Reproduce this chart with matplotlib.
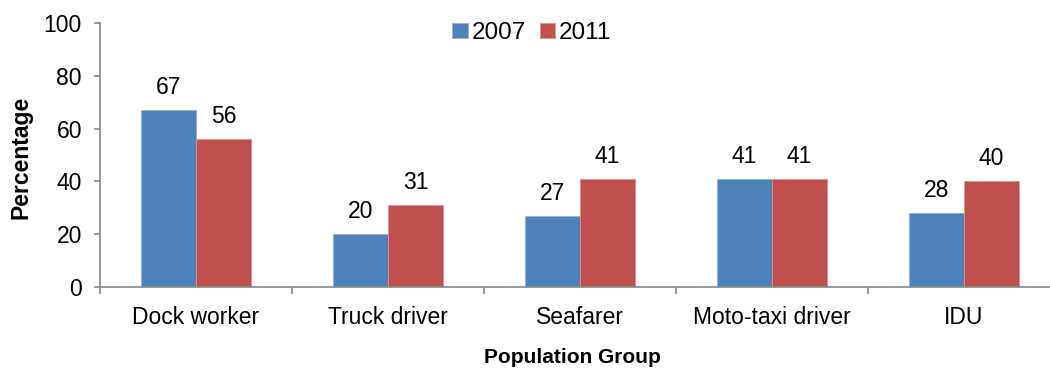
import matplotlib
matplotlib.use("Agg")
import matplotlib.pyplot as plt
import numpy as np

categories = ["Dock worker", "Truck driver", "Seafarer", "Moto-taxi driver", "IDU"]
years = ["2007", "2011"]
values_2007 = [67, 20, 27, 41, 28]
values_2011 = [56, 31, 41, 41, 40]
yticks = [0, 20, 40, 60, 80, 100]

plt.rcParams["font.family"] = ["Liberation Sans", "DejaVu Sans"]

fig = plt.figure(figsize=(10.5, 3.69), dpi=100)
ax = fig.add_axes([100 / 1050, 82 / 369, 960 / 1050, 264 / 369])

x = np.arange(len(categories))
w = 0.285
colors = ["#4F81BD", "#C0504D"]
edges = ["#8DB0DC", "#DE9492"]
for i, (vals, lab) in enumerate(zip([values_2007, values_2011], years)):
    pos = x + (i - 0.5) * w
    bars = ax.bar(pos, vals, width=w, color=colors[i], edgecolor=edges[i],
                  linewidth=0.6, label=lab, zorder=2)
    for b, v in zip(bars, vals):
        ax.annotate(f"{v}", (b.get_x() + b.get_width() / 2, v),
                    xytext=(0, 8), textcoords="offset points",
                    ha="center", va="bottom", fontsize=16.5)

ax.set_xlim(-0.5, len(categories) - 0.5)
ax.set_ylim(0, 100)
ax.set_yticks(yticks)
ax.set_yticklabels([str(t) for t in yticks], fontsize=16.5)

# category labels centred, ticks on category boundaries
ax.set_xticks(np.arange(len(categories) + 1) - 0.5)
ax.set_xticklabels([])
ax.set_xticks(x, minor=True)
ax.set_xticklabels(categories, minor=True, fontsize=16.5)
ax.tick_params(axis="x", which="minor", length=0, pad=14)
ax.tick_params(axis="x", which="major", length=5, color="#888888", width=1.2)
ax.tick_params(axis="y", length=4, color="#888888", width=1.2, pad=9)

for s in ["top", "right"]:
    ax.spines[s].set_visible(False)
for s in ["left", "bottom"]:
    ax.spines[s].set_color("#888888")
    ax.spines[s].set_linewidth(1.2)

ax.set_ylabel("Percentage", fontsize=16.5, fontweight="bold")
ax.yaxis.set_label_coords(-0.07, 0.49)
ax.set_xlabel("Population Group", fontsize=15, fontweight="bold")
ax.xaxis.set_label_coords(0.492, -0.23)

ax.legend(loc="center", bbox_to_anchor=(0.45, 0.962),
          ncol=2, frameon=False, fontsize=17.5, handlelength=0.62, handleheight=0.62,
          handletextpad=0.17, columnspacing=0.58, borderpad=0, borderaxespad=0)

fig.savefig("out.png", dpi=100)
